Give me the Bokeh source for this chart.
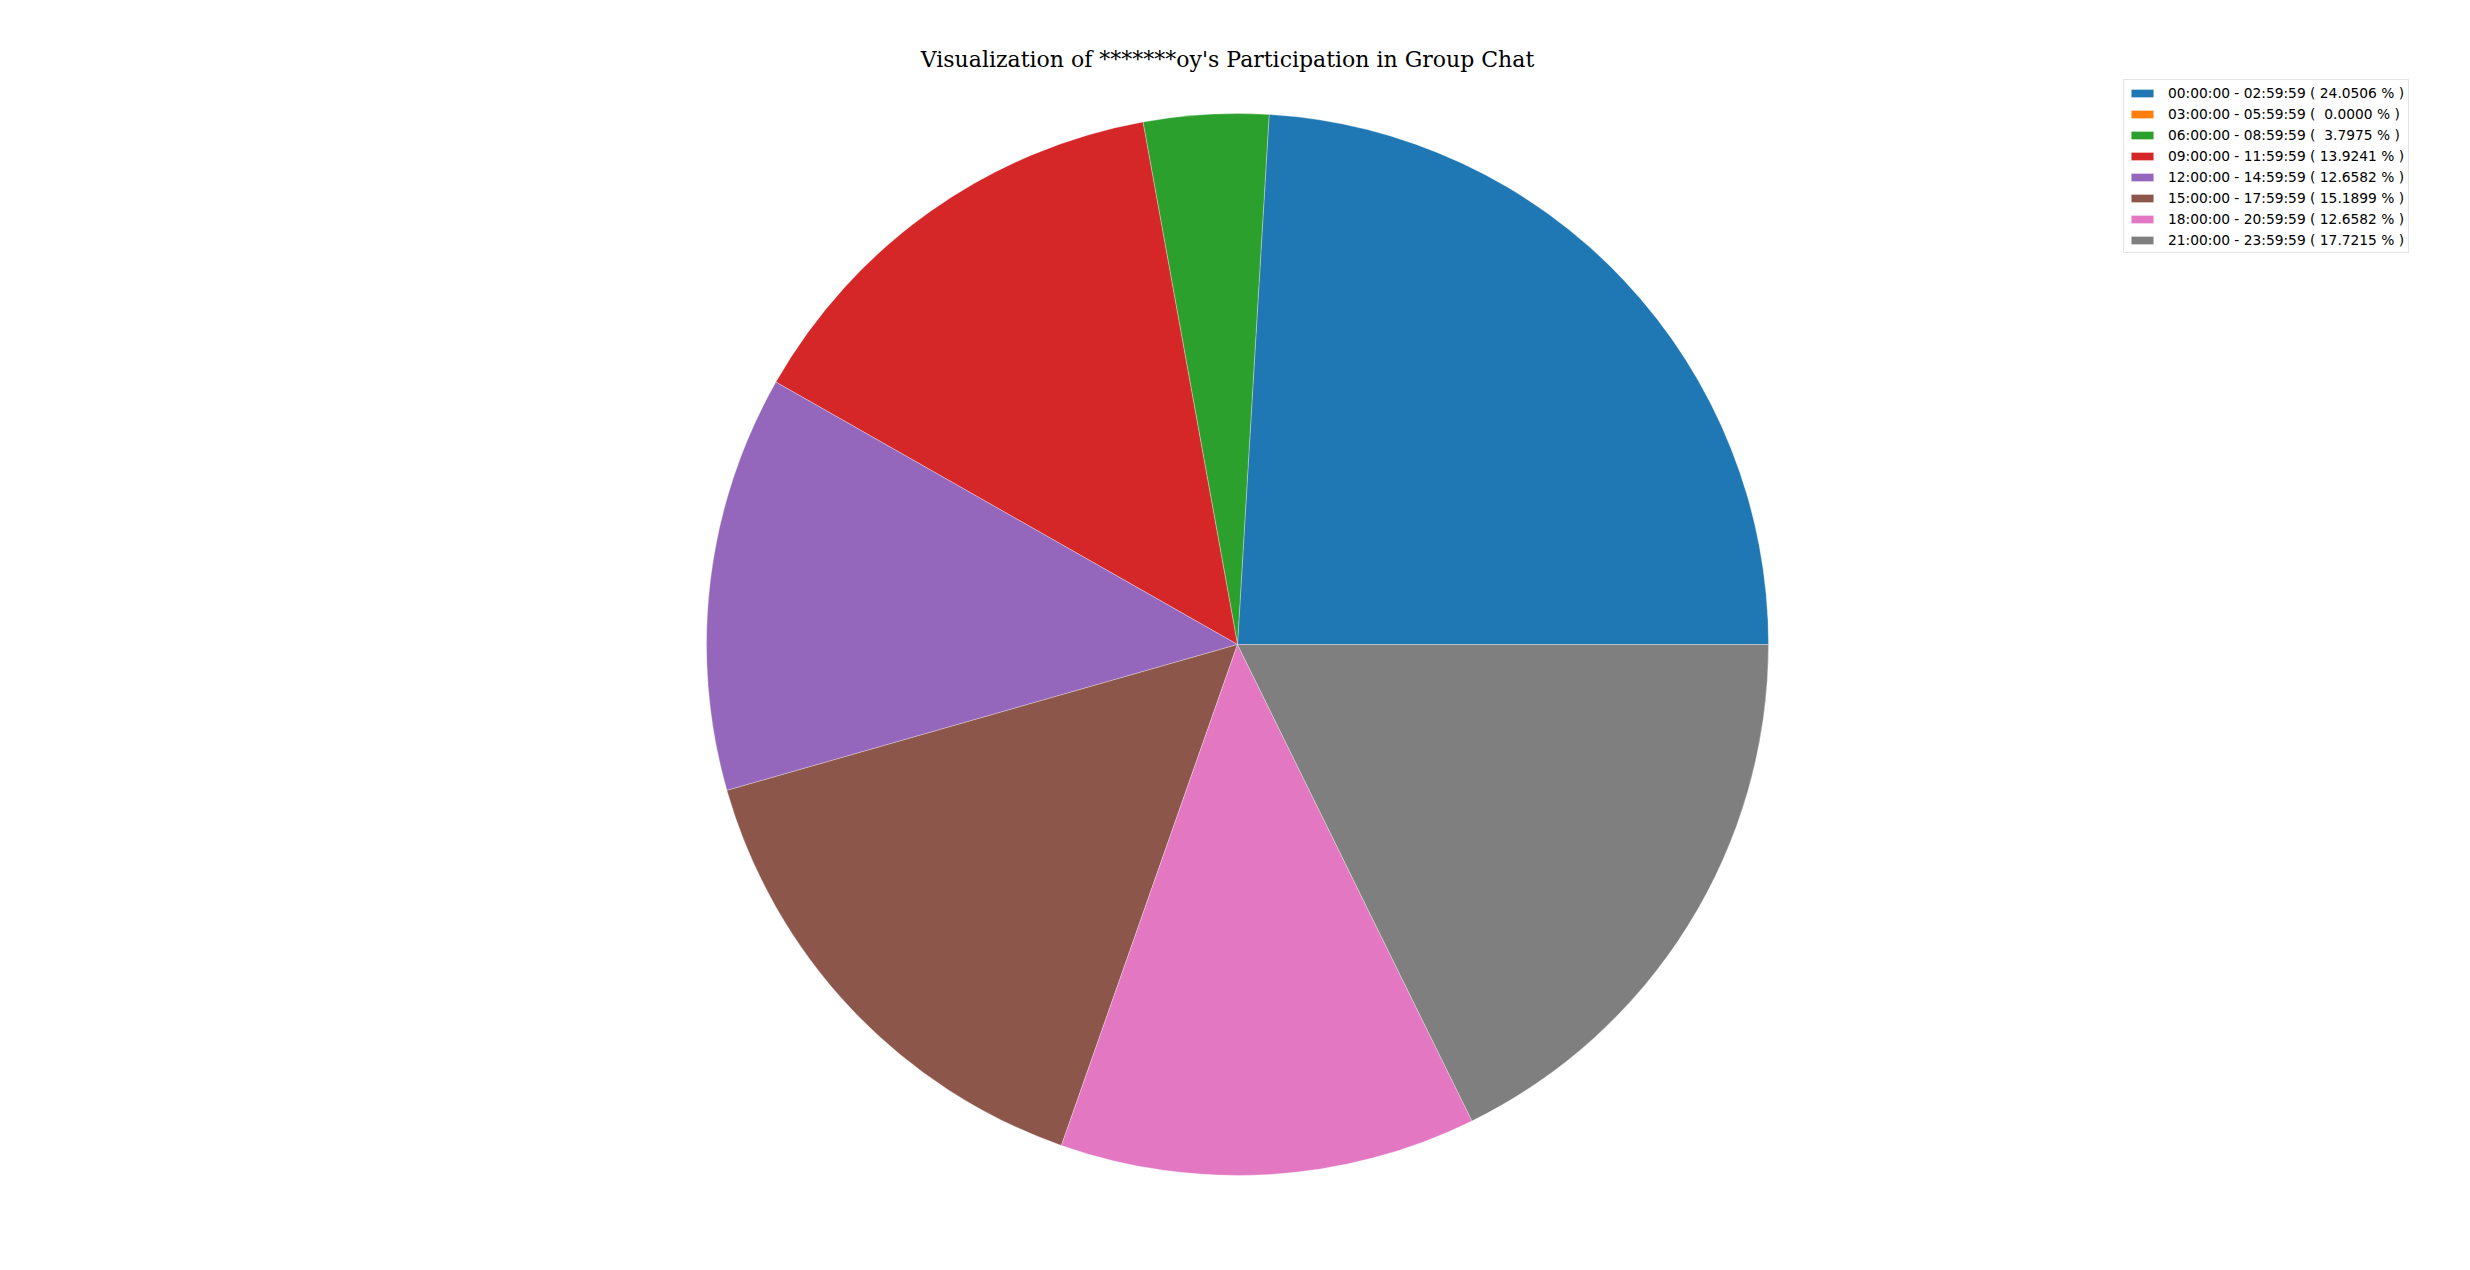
import math

from bokeh.embed import file_html
from bokeh.models import ColumnDataSource, Legend, LegendItem, Range1d
from bokeh.plotting import figure
from bokeh.resources import INLINE

time_ranges = [
    "00:00:00 - 02:59:59",
    "03:00:00 - 05:59:59",
    "06:00:00 - 08:59:59",
    "09:00:00 - 11:59:59",
    "12:00:00 - 14:59:59",
    "15:00:00 - 17:59:59",
    "18:00:00 - 20:59:59",
    "21:00:00 - 23:59:59",
]
shares = [24.0506, 0.0, 3.7975, 13.9241, 12.6582, 15.1899, 12.6582, 17.7215]
colors = ["#1f77b4", "#ff7f0e", "#2ca02c", "#d62728",
          "#9467bd", "#8c564b", "#e377c2", "#7f7f7f"]

W, H = 2454, 1254
TOP = 76
R = 531

# wedge angles, counter-clockwise from 3 o'clock like matplotlib
starts, ends = [], []
acc = 0.0
for s in shares:
    starts.append(acc)
    acc += s / 100.0 * 2 * math.pi
    ends.append(acc)

# an empty slice would be drawn as a full disc, so give it no radius
radii = [R if s > 0 else 0 for s in shares]
labels = ["%s ( %7.4f %% )" % (t, s) for t, s in zip(time_ranges, shares)]

src = ColumnDataSource(dict(start=starts, end=ends, color=colors,
                            label=labels, radius=radii))

p = figure(
    width=W,
    height=H,
    output_backend="svg",
    toolbar_location=None,
    x_range=Range1d(0, W),
    y_range=Range1d(0, H - TOP),
    min_border_left=0,
    min_border_right=0,
    min_border_bottom=0,
    min_border_top=TOP,
    title="Visualization of *******oy's Participation in Group Chat",
)
p.axis.visible = False
p.grid.visible = False
p.outline_line_color = None

p.title.align = "center"
p.title.text_font = "DejaVu Serif"
p.title.text_font_style = "normal"
p.title.text_font_size = "22px"
p.title.text_color = "black"
p.title.standoff = 10

# pie centre in screen pixels (y from the bottom)
cx, cy = 1237, H - 644
pie = p.wedge(
    x=cx, y=cy, radius="radius",
    start_angle="start", end_angle="end",
    fill_color="color", line_color="white", line_width=0.6, line_alpha=0.5,
    source=src,
)

items = [LegendItem(label=lab, renderers=[pie], index=i) for i, lab in enumerate(labels)]
legend = Legend(items=items, location=(2123, H - 253))
legend.label_text_font = "DejaVu Sans"
legend.label_text_font_size = "13.8px"
legend.label_text_color = "black"
legend.glyph_width = 28
legend.glyph_height = 10
legend.label_height = 17
legend.spacing = 4
legend.padding = 4
legend.margin = 0
legend.label_standoff = 12
legend.border_line_color = "#cccccc"
legend.border_line_width = 1
legend.background_fill_alpha = 0.8
p.add_layout(legend)

open("out.html", "w").write(file_html(p, INLINE))
